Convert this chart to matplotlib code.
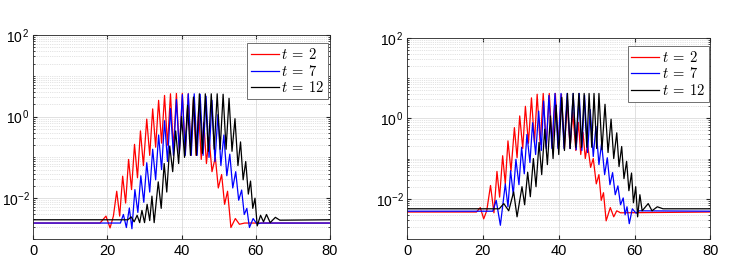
import numpy as np
import matplotlib
matplotlib.use("Agg")
from matplotlib import pyplot as plt
from matplotlib.ticker import LogLocator, NullFormatter, FixedLocator, FixedFormatter

plt.rcParams['font.family'] = ['Liberation Sans', 'DejaVu Sans']
plt.rcParams['mathtext.fontset'] = 'cm'

# curves: x and log10(y) at peaks / troughs
# left panel
L_red_x = [0, 18.0, 19.6, 20.7, 21.6, 22.5, 23.3, 24.1, 24.9, 25.7, 26.5, 27.3, 28.1, 28.9, 29.7,
           30.6, 31.4, 32.2, 33.0, 33.8, 34.6, 35.4, 36.2, 37.0, 37.8, 38.6, 39.4, 40.2, 41.0, 41.8,
           42.5, 43.2, 43.9, 44.6, 45.3, 46.0, 46.7, 47.4, 48.2, 49.1, 49.9, 50.8, 51.6, 52.4, 53.3,
           54.5, 55.6, 57.0, 80]
L_red_y = [-2.61, -2.61, -2.44, -2.73, -2.44, -1.83, -2.44, -1.46, -2.12, -1.05, -1.79, -0.68, -1.5, -0.35, -1.2,
           -0.06, -0.95, 0.19, -0.75, 0.40, -0.65, 0.52, -0.7, 0.56, -0.8, 0.57, -0.85, 0.57, -0.9, 0.56,
           -0.95, 0.42, -0.95, 0.15, -1.05, -0.15, -1.15, -0.51, -1.35, -1.0, -1.75, -1.42, -2.15, -1.83, -2.72,
           -2.5, -2.64, -2.61, -2.61]

L_blue_x = [0, 23.5, 24.3, 25.1, 25.9, 26.6, 27.4, 28.2, 29.0, 29.8, 30.6, 31.4, 32.2, 33.0,
            33.8, 34.6, 35.4, 36.2, 37.0, 37.8, 38.6, 39.4, 40.2, 41.0, 41.8, 42.6, 43.4, 44.2, 45.0, 45.8,
            46.6, 47.4, 48.2, 49.0, 49.8, 50.6, 51.4, 52.2, 53.0, 53.8, 54.6, 55.4, 56.2, 56.9,
            57.6, 58.3, 59.3, 60.3, 61.5, 80]
L_blue_y = [-2.61, -2.61, -2.40, -2.72, -2.24, -2.75, -1.79, -2.35, -1.45, -2.1, -1.13, -1.85, -0.8, -1.55,
            -0.45, -1.3, -0.1, -1.1, 0.2, -0.95, 0.42, -0.9, 0.54, -0.95, 0.56, -0.95, 0.56, -0.95, 0.55, -0.95,
            0.5, -1.0, 0.4, -1.1, 0.05, -1.2, -0.45, -1.45, -0.92, -1.75, -1.35, -2.05, -1.8, -2.4,
            -2.25, -2.72, -2.5, -2.63, -2.61, -2.61]

L_black_x = [0, 25.5, 26.4, 27.2, 28.0, 28.7, 29.3, 30.0, 30.7, 31.4, 32.0, 32.6, 33.7, 34.5, 35.3,
             36.0, 36.8, 37.6, 38.4, 39.2, 40.0, 40.8, 41.6, 42.4, 43.2, 44.0, 44.8, 45.6, 46.4, 47.2,
             48.0, 48.8, 49.6, 50.4, 51.2, 52.0, 52.8, 53.6, 54.4, 55.2, 55.9, 56.6, 57.3, 58.0,
             58.6, 59.2, 59.8, 60.4, 61.3, 62.1, 62.9, 63.9, 65.3, 66.5, 80]
L_black_y = [-2.53, -2.53, -2.46, -2.58, -2.42, -2.6, -2.3, -2.6, -2.15, -2.55, -1.95, -2.6, -1.6, -2.25, -1.15,
             -1.85, -0.72, -1.35, -0.35, -1.15, 0.0, -1.0, 0.28, -0.95, 0.48, -0.95, 0.56, -0.9, 0.56, -0.85,
             0.56, -0.8, 0.56, -0.8, 0.55, -0.8, 0.45, -0.85, -0.05, -1.2, -0.62, -1.55, -1.1, -1.9,
             -1.58, -2.25, -2.0, -2.68, -2.42, -2.58, -2.4, -2.6, -2.47, -2.54, -2.53]

# right panel
R_red_x = [0, 18.3, 19.3, 20.2, 21.0, 22.0, 22.9, 23.7, 24.4, 25.2, 25.9, 26.6, 27.4, 28.3, 29.0,
           29.7, 30.5, 31.2, 32.0, 32.8, 33.6, 34.3, 35.1, 35.9, 36.7, 37.5, 38.3, 39.1, 39.9, 40.7,
           41.5, 42.2, 43.0, 43.7, 44.5, 45.2, 45.8, 46.4, 47.0, 47.6, 48.4, 49.1, 49.9, 50.6, 51.2,
           51.8, 52.5, 53.6, 54.5, 55.3, 56.3, 80]
R_red_y = [-2.33, -2.33, -2.22, -2.5, -2.3, -1.67, -2.35, -1.32, -1.96, -0.93, -1.63, -0.56, -1.31, -0.23, -0.98,
           0.06, -0.75, 0.3, -0.62, 0.51, -0.6, 0.6, -0.65, 0.62, -0.7, 0.62, -0.72, 0.62, -0.72, 0.6,
           -0.75, 0.42, -0.75, 0.15, -0.8, -0.1, -0.9, -0.35, -1.0, -0.64, -1.22, -1.0, -1.63, -1.4, -2.04,
           -1.85, -2.55, -2.22, -2.45, -2.3, -2.35, -2.33]

R_blue_x = [0, 22.6, 23.5, 24.6, 25.9, 26.6, 27.3, 28.0, 28.7, 29.5, 30.2, 30.9, 31.6, 32.4,
            33.1, 33.9, 34.7, 35.4, 36.0, 36.7, 37.4, 38.2, 39.0, 39.8, 40.6, 41.4, 42.2, 43.0, 43.8, 44.6,
            45.4, 46.1, 46.8, 47.6, 48.3, 49.1, 49.8, 50.6, 51.3, 52.1, 52.8, 53.5, 54.2, 54.9,
            55.6, 56.3, 57.0, 57.5, 58.0, 58.6, 59.4, 60.4, 61.2, 80]
R_blue_y = [-2.31, -2.31, -2.04, -2.66, -1.63, -2.2, -1.3, -1.9, -1.02, -1.65, -0.72, -1.38, -0.4, -1.1,
            -0.11, -0.9, 0.18, -0.8, 0.43, -0.75, 0.57, -0.75, 0.62, -0.75, 0.62, -0.75, 0.62, -0.75, 0.62, -0.78,
            0.62, -0.8, 0.58, -0.85, 0.22, -0.95, -0.2, -1.15, -0.62, -1.4, -0.98, -1.65, -1.35, -1.9,
            -1.68, -2.15, -1.98, -2.4, -2.2, -2.62, -2.25, -2.36, -2.3, -2.31]

R_black_x = [0, 24.3, 25.5, 26.8, 28.1, 29.0, 30.3, 31.0, 31.8, 32.5, 33.3, 34.0, 34.8, 35.5,
             36.3, 37.0, 37.8, 38.5, 39.3, 40.0, 40.8, 41.5, 42.3, 43.0, 43.8, 44.5, 45.3, 46.0, 46.7, 47.4,
             48.0, 48.7, 49.3, 50.0, 50.6, 51.4, 52.2, 53.0, 53.8, 54.5, 55.3, 55.9, 56.6, 57.2,
             57.9, 58.5, 59.2, 59.7, 60.3, 60.8, 61.4, 62.0, 63.6, 64.6, 66.0, 67.5, 80]
R_black_y = [-2.25, -2.25, -2.12, -2.3, -1.83, -2.45, -1.7, -2.15, -1.34, -1.95, -1.0, -1.7, -0.6, -1.4,
             -0.27, -1.15, 0.06, -1.0, 0.33, -0.9, 0.52, -0.8, 0.62, -0.75, 0.62, -0.72, 0.62, -0.72, 0.62, -0.72,
             0.62, -0.72, 0.62, -0.75, 0.62, -0.78, 0.35, -0.85, -0.02, -1.0, -0.36, -1.2, -0.7, -1.5,
             -1.07, -1.8, -1.36, -2.1, -1.7, -2.45, -1.9, -2.3, -2.12, -2.3, -2.2, -2.25, -2.25]

labels = [r'$t\:=\:2$', r'$t\:=\:7$', r'$t\:=\:12$']
colors = ['#ff0000', '#0000ff', '#000000']
yticks = [1e-2, 1e0, 1e2]
ytick_labels = [r'$\mathdefault{10^{-2}}$', r'$\mathdefault{10^{\,0}}$', r'$\mathdefault{10^{\,2}}$']

panels = [
    ([0.0446, 0.081, 0.397, 0.784], [(L_red_x, L_red_y), (L_blue_x, L_blue_y), (L_black_x, L_black_y)]),
    ([0.545, 0.081, 0.406, 0.773], [(R_red_x, R_red_y), (R_blue_x, R_blue_y), (R_black_x, R_black_y)]),
]

fig = plt.figure(figsize=(7.47, 2.6), dpi=100)

for rect, curves in panels:
    ax = fig.add_axes(rect)
    for (cx, cy), col, lab in zip(curves, colors, labels):
        ax.semilogy(cx, 10.0 ** np.array(cy), color=col, lw=0.9, label=lab)
    ax.set_xlim(0, 80)
    ax.set_ylim(1e-3, 1e2)
    ax.set_xticks([0, 20, 40, 60, 80])
    ax.yaxis.set_major_locator(FixedLocator(yticks))
    ax.yaxis.set_major_formatter(FixedFormatter(ytick_labels))
    ax.yaxis.set_minor_locator(LogLocator(base=10, subs=np.arange(1, 10), numticks=20))
    ax.yaxis.set_minor_formatter(NullFormatter())
    ax.grid(True, which='major', color='#dcdcdc', lw=0.6, ls='-')
    ax.grid(True, which='minor', axis='y', color='#c8c8c8', lw=0.5, ls=':')
    ax.tick_params(which='both', direction='in', top=True, right=True, labelsize=10.5,
                   color='#262626', length=3)
    ax.tick_params(axis='y', labelsize=10, pad=2.5)
    ax.tick_params(which='minor', length=1.5)
    for s in ax.spines.values():
        s.set_color('#262626')
        s.set_linewidth(0.6)
    leg = ax.legend(loc='upper right', bbox_to_anchor=(0.995, 0.96), borderaxespad=0,
                    fontsize=10.5, fancybox=False, framealpha=1, edgecolor='#707070',
                    handlelength=1.9, labelspacing=0.12, handletextpad=0.2, borderpad=0.25)
    leg.get_frame().set_linewidth(0.7)

fig.savefig('out.png', dpi=100)
